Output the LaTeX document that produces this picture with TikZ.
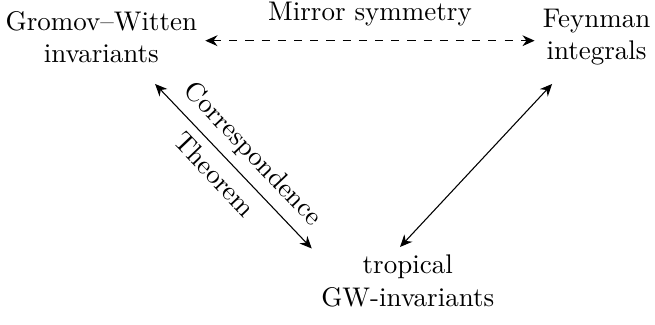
\documentclass[tikz,border=0pt]{standalone}
\usepackage{amsmath}
\usepackage{tikz}
\usetikzlibrary{arrows.meta,positioning,calc}

\begin{document}
\begin{tikzpicture}[
    >=Stealth,
    obj/.style={align=center, inner sep=0.1cm},
    link/.style={<->, {Stealth[length=4.5pt,width=4pt]}-{Stealth[length=4.5pt,width=4pt]}}
]
\useasboundingbox (0,0) rectangle (8.53,4.22);

% objects
\node[obj] (gw) at (1.32, 3.74) {Gromov--Witten\\invariants};
\node[obj] (feyn) at (7.77, 3.74) {Feynman\\integrals};
\node[obj] (trop) at (5.31, 0.56) {tropical\\GW-invariants};

% connections
\draw[link, dashed] ([yshift=-0.05cm]gw.east) -- ([yshift=-0.05cm]feyn.west)
    node[midway, above=0.07cm] (mirror) {Mirror symmetry};
\draw[link] ([shift={(0.70,-0.17)}]gw.south) -- ([shift={(-1.25,-0.02)}]trop.north)
    node[pos=0.52, above, sloped] (corr) {Correspondence}
    node[pos=0.47, below, sloped] (thm) {Theorem};
\draw[link] ([shift={(-0.58,-0.14)}]feyn.south) -- ([shift={(-0.10,0)}]trop.north);

\end{tikzpicture}
\end{document}
